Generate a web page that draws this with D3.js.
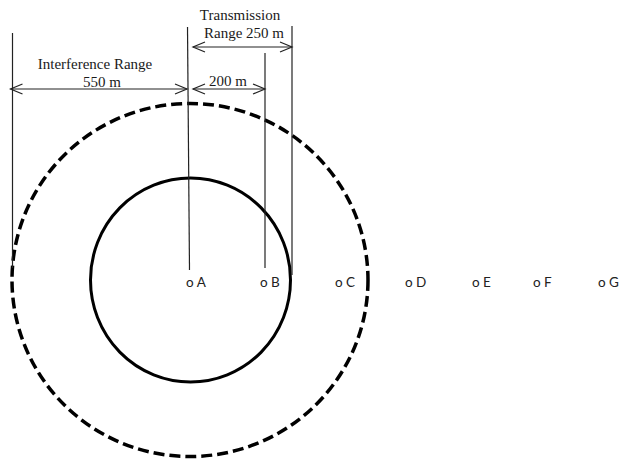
<!DOCTYPE html>
<html><head><meta charset="utf-8">
<script src="https://cdn.jsdelivr.net/npm/d3@7"></script>
<style>html,body{margin:0;padding:0;background:#fff;}</style>
</head><body>
<svg id="c" width="622" height="459"></svg>
<script>
// Diagram data (horizontal offsets from node A, in drawing units)
const nodeNames = ["A","B","C","D","E","F","G"];
const nodeOffsets = [0, 74, 149, 219, 286, 347, 412];
const transmissionRadius = 100;
const interferenceRadius = 178;
const rangeLabels = ["Interference Range", "550 m", "Transmission", "Range 250 m", "200 m"];

const svg = d3.select("#c");
const cx = 190, cy = 280;
const x = d3.scaleLinear().domain([0, 100]).range([cx, cx + 100]);
const r = v => x(v) - x(0);

// circles
svg.append("ellipse").attr("cx", cx).attr("cy", cy)
  .attr("rx", r(interferenceRadius)).attr("ry", r(interferenceRadius) - 1.5)
  .attr("fill", "none").attr("stroke", "#000").attr("stroke-width", 3.5)
  .attr("stroke-dasharray", "11,5");
svg.append("ellipse").attr("cx", cx + 0.5).attr("cy", cy)
  .attr("rx", r(transmissionRadius)).attr("ry", r(transmissionRadius) + 2)
  .attr("fill", "none").attr("stroke", "#000").attr("stroke-width", 3);

// vertical guide lines
const lines = [
  {x1: x(-interferenceRadius) + 0.5, y1: 33, x2: x(-interferenceRadius) + 0.5, y2: 268},
  {x1: 187.5, y1: 27, x2: 189.5, y2: 270},
  {x1: x(nodeOffsets[1]) + 1, y1: 53, x2: x(nodeOffsets[1]) + 1, y2: 268},
  {x1: x(transmissionRadius) + 2, y1: 26, x2: x(transmissionRadius) + 2, y2: 275}
];
svg.selectAll("line.v").data(lines).join("line").attr("class","v")
  .attr("x1", d => d.x1).attr("y1", d => d.y1).attr("x2", d => d.x2).attr("y2", d => d.y2)
  .attr("stroke", "#222").attr("stroke-width", 1.2);

// double arrows
function arrow(xa, xb, y) {
  const g = svg.append("g").attr("stroke", "#222").attr("stroke-width", 1.2).attr("fill", "none");
  g.append("line").attr("x1", xa).attr("y1", y).attr("x2", xb).attr("y2", y);
  g.append("path").attr("d", `M${xa + 12},${y - 5} L${xa},${y} L${xa + 12},${y + 5}`);
  g.append("path").attr("d", `M${xb - 12},${y - 5} L${xb},${y} L${xb - 12},${y + 5}`);
}
arrow(10.5, 187, 89);
arrow(193, 265, 89);
arrow(193, 292, 47);

// range labels
const lab = [
  {t: rangeLabels[0], x: 95, y: 69},
  {t: rangeLabels[1], x: 102, y: 87},
  {t: rangeLabels[2], x: 240, y: 20},
  {t: rangeLabels[3], x: 244, y: 38},
  {t: rangeLabels[4], x: 228, y: 86}
];
svg.selectAll("text.r").data(lab).join("text").attr("class","r")
  .attr("x", d => d.x).attr("y", d => d.y).attr("text-anchor", "middle")
  .attr("font-family", "'Liberation Serif', 'Times New Roman', serif")
  .attr("font-size", 15).attr("fill", "#1a1a1a").text(d => d.t);

// nodes
svg.selectAll("text.n").data(nodeNames).join("text").attr("class","n")
  .attr("x", (d, i) => x(nodeOffsets[i]) - 4).attr("y", 287)
  .attr("font-family", "Lato, 'Open Sans', sans-serif")
  .attr("font-size", 13.5).attr("fill", "#222")
  .text(d => "o " + d);
</script>
</body></html>
